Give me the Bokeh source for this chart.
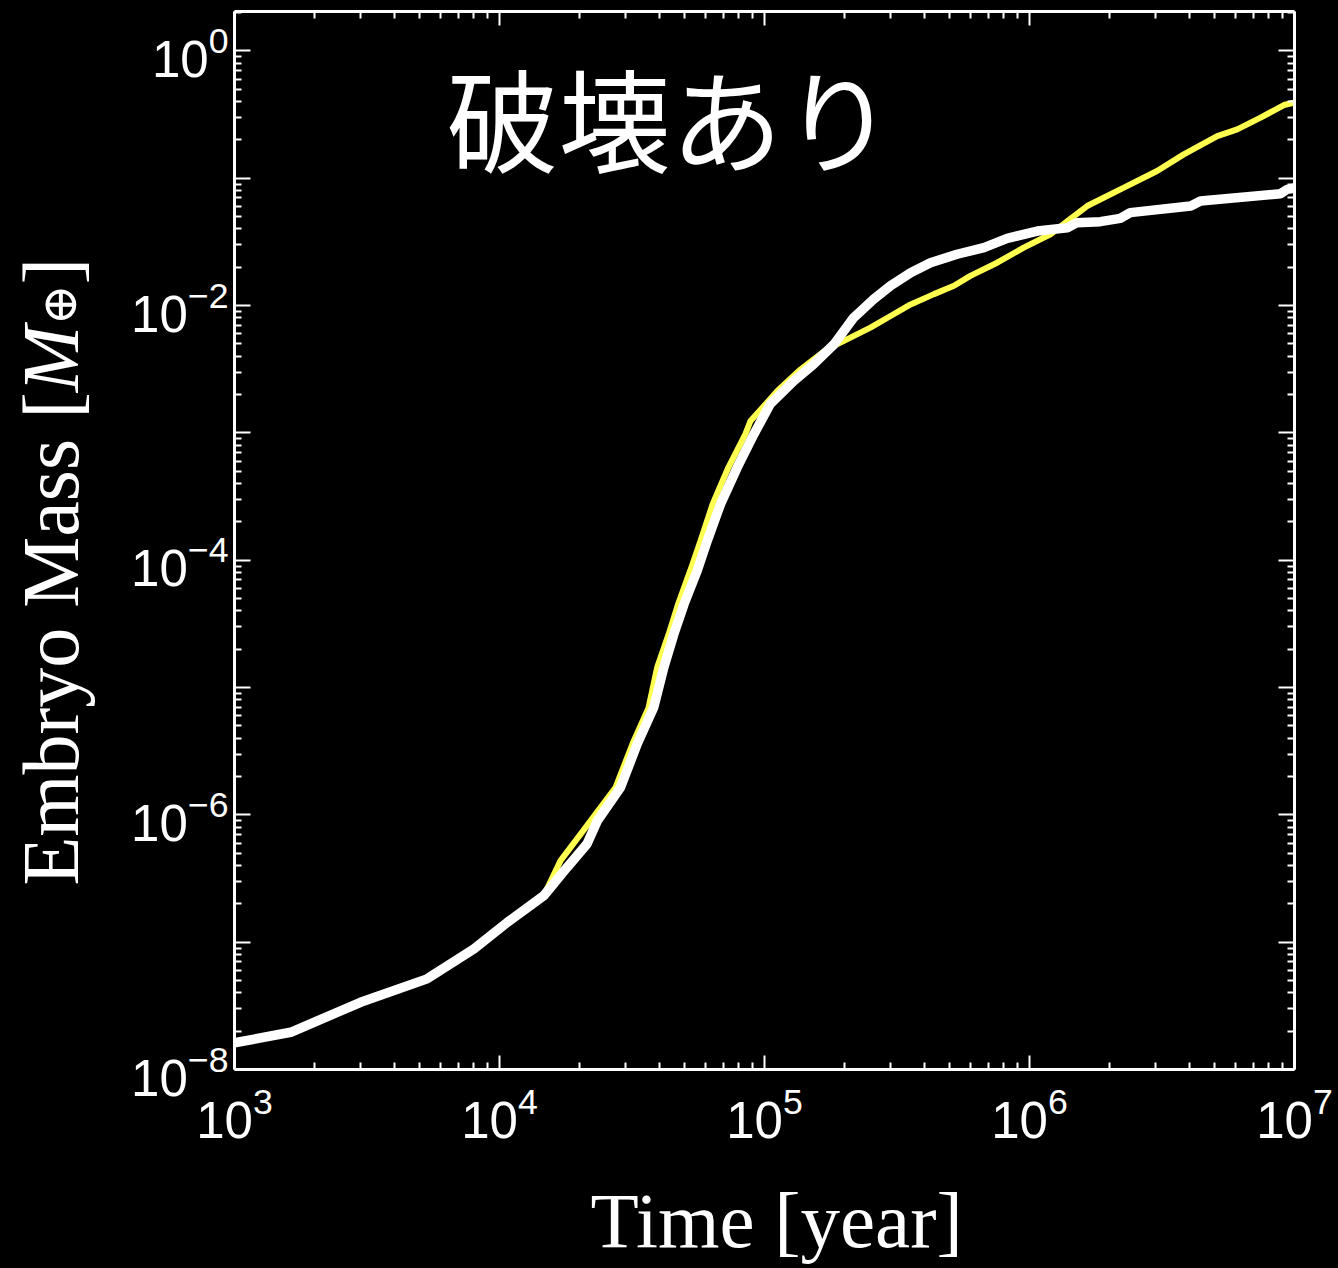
from bokeh.plotting import figure
from bokeh.layouts import row, column
from bokeh.models import LogAxis, FixedTicker, Label
from bokeh.embed import file_html
from bokeh.resources import INLINE

# ---- data: embryo mass growth (Earth masses) against time (years) ----
# white run
time_white = [1.00e3, 1.63e3, 2.99e3, 5.33e3, 8.00e3, 1.07e4, 1.47e4, 1.80e4,
              2.14e4, 2.34e4, 2.86e4, 3.31e4, 3.82e4, 4.17e4, 4.55e4, 4.97e4,
              5.57e4, 6.08e4, 6.82e4, 7.89e4, 9.12e4, 1.05e5, 1.29e5, 1.53e5,
              1.83e5, 2.17e5, 2.58e5, 2.99e5, 3.56e5, 4.23e5, 5.33e5, 6.73e5,
              8.24e5, 1.07e6, 1.39e6, 1.51e6, 1.85e6, 2.20e6, 2.40e6, 4.06e6,
              4.42e6, 8.85e6, 9.38e6, 9.93e6]
mass_white = [1.62e-8, 1.96e-8, 3.37e-8, 5.15e-8, 8.85e-8, 1.43e-7, 2.32e-7, 3.87e-7,
              5.92e-7, 8.99e-7, 1.64e-6, 3.61e-6, 6.98e-6, 1.44e-5, 2.63e-5, 4.52e-5,
              8.26e-5, 1.42e-4, 2.75e-4, 5.35e-4, 9.77e-4, 1.68e-3, 2.56e-3, 3.46e-3,
              4.97e-3, 8.04e-3, 1.12e-2, 1.43e-2, 1.81e-2, 2.17e-2, 2.53e-2, 2.85e-2,
              3.37e-2, 3.85e-2, 4.09e-2, 4.48e-2, 4.56e-2, 4.84e-2, 5.37e-2, 6.05e-2,
              6.62e-2, 7.55e-2, 8.18e-2, 8.34e-2]

# yellow run
time_yellow = [1.00e3, 1.63e3, 2.99e3, 5.33e3, 8.00e3, 1.07e4, 1.47e4, 1.70e4,
               2.07e4, 2.74e4, 3.18e4, 3.65e4, 3.94e4, 4.35e4, 4.73e4, 5.25e4,
               5.73e4, 6.37e4, 7.31e4, 8.47e4, 8.85e4, 1.12e5, 1.37e5, 1.72e5,
               2.11e5, 2.51e5, 2.99e5, 3.56e5, 4.36e5, 5.19e5, 5.98e5, 7.55e5,
               9.51e5, 1.20e6, 1.39e6, 1.65e6, 2.27e6, 3.03e6, 3.82e6, 5.11e6,
               6.08e6, 7.45e6, 9.12e6, 9.93e6]
mass_yellow = [1.62e-8, 1.96e-8, 3.37e-8, 5.15e-8, 8.85e-8, 1.43e-7, 2.32e-7, 4.37e-7,
               7.52e-7, 1.64e-6, 3.63e-6, 6.92e-6, 1.45e-5, 2.63e-5, 4.57e-5, 8.32e-5,
               1.41e-4, 2.75e-4, 5.37e-4, 9.77e-4, 1.24e-3, 2.14e-3, 3.16e-3, 4.54e-3,
               5.60e-3, 6.71e-3, 8.28e-3, 1.02e-2, 1.23e-2, 1.43e-2, 1.71e-2, 2.17e-2,
               2.85e-2, 3.63e-2, 4.61e-2, 6.05e-2, 8.43e-2, 1.14e-1, 1.54e-1, 2.14e-1,
               2.42e-1, 2.99e-1, 3.76e-1, 3.92e-1]

# ---- ticks ----
x_decades = [1e3, 1e4, 1e5, 1e6, 1e7]
y_decades = [1e-8, 1e-7, 1e-6, 1e-5, 1e-4, 1e-3, 1e-2, 1e-1, 1e0]
y_labelled = [1e-8, 1e-6, 1e-4, 1e-2, 1e0]

title_text = "破壊あり"
xlabel_text = "Time [year]"
ylabel_parts = ["Embryo Mass [", "M", "⊕", "]"]

x_minor = [k * d for d in x_decades[:-1] for k in range(2, 10)]
y_minor = [k * d for d in y_decades for k in range(2, 10)]

FG = "white"
YELLOW = "#ffff50"
PAGE_W = 1338
PAGE_H = 1268
LABEL_W = 100           # left strip holding the vertical label
XLAB_H = 100            # bottom strip holding the horizontal label
ROW_H = PAGE_H - XLAB_H
FRAME_LEFT = 234
FRAME_RIGHT = 1294
FRAME_BOTTOM = 1069     # page y of the frame's lower edge

p = figure(width=PAGE_W - LABEL_W, height=ROW_H,
           x_axis_type="log", y_axis_type="log",
           x_range=(1e3, 1e7), y_range=(1e-8, 2.04),
           output_backend="svg", toolbar_location=None,
           min_border_left=FRAME_LEFT - LABEL_W,
           min_border_right=PAGE_W - FRAME_RIGHT,
           min_border_top=11, min_border_bottom=ROW_H - FRAME_BOTTOM)
p.background_fill_color = "black"
p.border_fill_color = "black"
p.outline_line_color = None
p.grid.visible = False

p.line(time_yellow, mass_yellow, line_color=YELLOW, line_width=6)
p.line(time_white, mass_white, line_color=FG, line_width=9.5)


def style_axis(ax, major, minor, labels=True, major_len=15):
    ax.ticker = FixedTicker(ticks=major, minor_ticks=minor)
    ax.axis_line_color = FG
    ax.axis_line_width = 3
    ax.major_tick_line_color = FG
    ax.minor_tick_line_color = FG
    ax.major_tick_line_width = 2
    ax.minor_tick_line_width = 2
    ax.major_tick_in = major_len
    ax.major_tick_out = 0
    ax.minor_tick_in = 7
    ax.minor_tick_out = 0
    ax.major_label_text_color = FG
    ax.major_label_text_font = "Liberation Sans"
    if labels:
        ax.major_label_text_font_size = "51px"
    else:
        ax.major_label_text_font_size = "0px"
        ax.major_label_standoff = 0
        ax.major_label_overrides = {t: "" for t in major}


xb = p.xaxis[0]
yl = p.yaxis[0]
style_axis(xb, x_decades, x_minor, major_len=14)
xb.major_label_standoff = 16
style_axis(yl, y_decades, y_minor, major_len=16)
yl.major_label_standoff = 6
yl.major_label_overrides = {t: "" for t in y_decades if t not in y_labelled}

xt = LogAxis()
style_axis(xt, x_decades, x_minor, labels=False, major_len=14)
p.add_layout(xt, "above")
yr = LogAxis()
style_axis(yr, y_decades, y_minor, labels=False, major_len=16)
p.add_layout(yr, "right")

# panel title inside the frame (screen offsets from the frame's lower-left corner)
p.add_layout(Label(x=212, y=954, x_units="screen", y_units="screen",
                   text=title_text, text_color=FG,
                   text_font="Noto Sans CJK JP", text_font_size="112px",
                   text_align="left", text_baseline="alphabetic"))


def text_strip(width, height, **borders):
    f = figure(width=width, height=height, x_range=(0, 1), y_range=(0, 1),
               output_backend="svg", toolbar_location=None,
               x_axis_location=None, y_axis_location=None, **borders)
    f.background_fill_color = "black"
    f.border_fill_color = "black"
    f.outline_line_color = None
    f.grid.visible = False
    return f


# ---- left strip: vertical y label ----
lab = text_strip(LABEL_W, ROW_H, min_border=0)

fs = 80
sub_fs = 49
adv_main = 6.166 * fs      # "Embryo Mass [" advance in Times metrics
adv_m = 0.833 * fs         # italic M
adv_sub = 0.838 * sub_fs   # circled plus
base_x = 50
start_y = FRAME_BOTTOM - 885
pieces = [
    (ylabel_parts[0], base_x, start_y, "Liberation Serif", fs, "normal"),
    (ylabel_parts[1], base_x, start_y + adv_main, "Liberation Serif", fs, "italic"),
    (ylabel_parts[2], base_x + 9, start_y + adv_main + adv_m, "DejaVu Serif", sub_fs, "normal"),
    (ylabel_parts[3], base_x, start_y + adv_main + adv_m + adv_sub, "Liberation Serif", fs, "normal"),
]
for txt, sx, sy, font, size, style in pieces:
    lab.add_layout(Label(x=sx, y=sy, x_units="screen", y_units="screen",
                         text=txt, text_color=FG, angle=1.5707963267948966,
                         text_font=font, text_font_size=f"{size}px",
                         text_font_style=style,
                         text_align="left", text_baseline="alphabetic"))

# ---- bottom strip: x label, frame lined up with the plot frame ----
xlab = text_strip(PAGE_W, XLAB_H, min_border_left=FRAME_LEFT,
                  min_border_right=PAGE_W - FRAME_RIGHT,
                  min_border_top=0, min_border_bottom=0)
xlab.add_layout(Label(x=356, y=48, x_units="screen", y_units="screen",
                      text=xlabel_text, text_color=FG,
                      text_font="Liberation Serif", text_font_size="79px",
                      text_align="left", text_baseline="alphabetic"))

page_style = """{% block postamble %}<style>html, body { background-color: black; }</style>{% endblock %}"""

layout = column(row(lab, p), xlab)
open("out.html", "w").write(file_html(layout, INLINE, template=page_style))
